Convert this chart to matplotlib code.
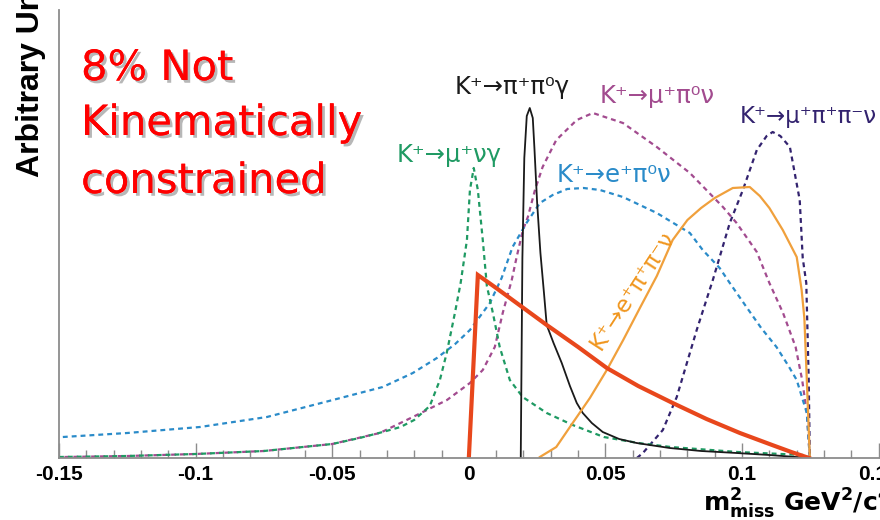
import matplotlib
matplotlib.use("Agg")
import matplotlib.pyplot as plt
import matplotlib.patheffects as pe
from matplotlib.ticker import MultipleLocator

# Missing-mass-squared distributions (arbitrary units)
x_mununug = [-0.150, -0.125, -0.100, -0.075, -0.050, -0.040, -0.0315, -0.025, -0.020,
             -0.0143, -0.0106, -0.0081, -0.0051, -0.003, -0.0007, 0.0004, 0.0018,
             0.0033, 0.0051, 0.0066, 0.0088, 0.0113, 0.0150, 0.0197, 0.0285, 0.038,
             0.0494, 0.0620, 0.0739, 0.0984, 0.1226, 0.1248]
y_mununug = [1, 2, 4, 7, 14, 20, 26, 31, 38, 52, 78, 105, 145, 175, 218, 268, 290,
             268, 218, 172, 145, 111, 78, 61, 45, 33, 21, 15, 11, 6, 3, 0]

x_epi0nu = [-0.1486, -0.125, -0.0984, -0.0739, -0.0498, -0.0315, -0.0205, -0.0117,
            -0.005, 0.0004, 0.0077, 0.0120, 0.0160, 0.0211, 0.026, 0.0307, 0.036,
            0.042, 0.048, 0.0564, 0.0688, 0.0809, 0.0856, 0.0918, 0.0955, 0.1016,
            0.1070, 0.1126, 0.1170, 0.1200, 0.1237, 0.1248]
y_epi0nu = [21, 25, 31, 41, 58, 71, 85, 100, 114, 128, 155, 180, 211, 235, 255, 263,
            269, 270, 268, 261, 245, 225, 208, 190, 175, 151, 130, 111, 92, 78, 45, 0]

x_mupi0nu = [-0.148, -0.125, -0.100, -0.075, -0.050, -0.0326, -0.0205, -0.008, 0.0004,
             0.0051, 0.0095, 0.0124, 0.0157, 0.0175, 0.0198, 0.0216, 0.0242, 0.027,
             0.032, 0.0395, 0.0454, 0.0564, 0.0688, 0.0809, 0.093, 0.098, 0.1054,
             0.1100, 0.1150, 0.1196, 0.1220, 0.1237, 0.1248]
y_mupi0nu = [1, 2, 4, 7, 14, 25, 41, 58, 75, 88, 111, 145, 178, 201, 228, 241, 268,
             291, 318, 338, 345, 335, 311, 285, 251, 235, 206, 175, 145, 111, 78, 45, 0]

x_mupipinu = [0.0615, 0.0637, 0.0710, 0.0761, 0.0834, 0.0893, 0.0955, 0.1003, 0.1054,
              0.1090, 0.1112, 0.1140, 0.1175, 0.1211, 0.1222, 0.1235, 0.1244, 0.1248]
y_mupipinu = [0, 5, 28, 61, 128, 178, 235, 268, 308, 322, 326, 322, 311, 258, 200,
              175, 78, 0]

x_pipi0g = [0.0190, 0.0196, 0.0203, 0.0212, 0.0223, 0.0234, 0.0240, 0.0250, 0.0262,
            0.0275, 0.0285, 0.031, 0.034, 0.037, 0.0395, 0.0417, 0.045, 0.049, 0.055,
            0.0614, 0.0735, 0.085, 0.098, 0.110, 0.1245]
y_pipi0g = [0, 200, 300, 342, 350, 340, 310, 255, 205, 165, 133, 115, 95, 72, 55, 45,
            35, 26, 19, 15, 10, 7, 5, 3, 0]

x_epipinu = [0.026, 0.032, 0.038, 0.0443, 0.0505, 0.0565, 0.0626, 0.0688, 0.0746, 0.080,
             0.085, 0.090, 0.0966, 0.1028, 0.1065, 0.110, 0.1149, 0.1200, 0.1218,
             0.1228, 0.1237, 0.1248]
y_epipinu = [1, 11, 35, 60, 88, 118, 150, 182, 218, 238, 250, 260, 270, 271, 262, 250,
             228, 201, 168, 140, 78, 0]

x_unconstr = [0.0, 0.0033, 0.010, 0.0285, 0.040, 0.0505, 0.062, 0.0746, 0.087, 0.0992,
              0.111, 0.118, 0.1245]
y_unconstr = [0, 183, 170, 133, 111, 90, 72, 55, 39, 25, 13, 6, 0]

tick_major = [-0.15, -0.1, -0.05, 0, 0.05, 0.1, 0.15]
tick_labels = ["-0.15", "-0.1", "-0.05", "0", "0.05", "0.1", "0.15"]

C_GREEN = "#1f9a63"
C_BLUE = "#2a8bc9"
C_MAGENTA = "#a24b8f"
C_INDIGO = "#33236f"
C_BLACK = "#1a1a1a"
C_ORANGE = "#f0a03c"
C_RED = "#e8471c"

fig = plt.figure(figsize=(8.8, 5.2), dpi=100)
ax = fig.add_axes([59 / 880, 62 / 520, 847 / 880, 448 / 520])
ax.set_xlim(-0.15, 0.16)
ax.set_ylim(0, 448)

dots = (0, (2.2, 1.8))
lw_d = 1.6
ax.plot(x_mupi0nu, y_mupi0nu, color=C_MAGENTA, lw=lw_d, ls=dots)
ax.plot(x_epi0nu, y_epi0nu, color=C_BLUE, lw=lw_d, ls=dots)
ax.plot(x_mupipinu, y_mupipinu, color=C_INDIGO, lw=lw_d, ls=dots)
ax.plot(x_mununug, y_mununug, color=C_GREEN, lw=lw_d, ls=dots)
ax.plot(x_pipi0g, y_pipi0g, color=C_BLACK, lw=1.3)
ax.plot(x_epipinu, y_epipinu, color=C_ORANGE, lw=1.6)
ax.plot(x_unconstr, y_unconstr, color=C_RED, lw=3.0, solid_joinstyle="miter")

lab_kw = dict(family="DejaVu Sans", clip_on=False)
ax.text(0.0157, 371, "K⁺→π⁺π⁰γ", color=C_BLACK, ha="center", va="center",
        fontsize=17.5, **lab_kw)
ax.text(0.0688, 362, "K⁺→μ⁺π⁰ν", color=C_MAGENTA, ha="center", va="center",
        fontsize=17.5, **lab_kw)
ax.text(0.0992, 341, "K⁺→μ⁺π⁺π⁻ν", color=C_INDIGO, ha="left", va="center",
        fontsize=16.5, **lab_kw)
ax.text(0.0531, 283, "K⁺→e⁺π⁰ν", color=C_BLUE, ha="center", va="center",
        fontsize=17.5, **lab_kw)
ax.text(-0.0073, 303, "K⁺→μ⁺νγ", color=C_GREEN, ha="center", va="center",
        fontsize=17.5, **lab_kw)
ax.text(0.0598, 168, "K⁺→e⁺π⁺π⁻ν", color="#f0961e", ha="center", va="center",
        rotation=57, rotation_mode="anchor", fontsize=16.5, **lab_kw)

for s in ("top", "right"):
    ax.spines[s].set_visible(False)
for s in ("left", "bottom"):
    ax.spines[s].set_color("#8c8c8c")
    ax.spines[s].set_linewidth(1.3)

ax.set_xticks(tick_major)
ax.set_xticklabels(tick_labels, fontsize=15, fontweight="bold", family="Liberation Sans")
ax.xaxis.set_minor_locator(MultipleLocator(0.01))
ax.tick_params(axis="x", which="major", direction="in", length=11, width=1.0,
               color="#8c8c8c", pad=5)
ax.tick_params(axis="x", which="minor", direction="in", length=6, width=1.0,
               color="#8c8c8c")
ax.set_yticks([])

fig.text(31 / 880, 343 / 520, "Arbitrary Units", rotation=90, ha="center", va="bottom",
         fontsize=23, fontweight="bold", family="Liberation Sans")

fig.text(703 / 880, 8 / 520, r"$\mathbf{m^{2}_{miss}}$ $\mathbf{GeV^{2}/c^{4}}$",
         fontsize=18, ha="left", va="baseline")

shadow = [pe.withSimplePatchShadow(offset=(2, -2), shadow_rgbFace="#999999", alpha=0.7),
          pe.Normal()]
for txt, yb in (("8% Not", 80), ("Kinematically", 135), ("constrained", 193)):
    fig.text(81 / 880, (520 - yb) / 520, txt, color="#ff0000", fontsize=30,
             family="DejaVu Sans", ha="left", va="baseline", path_effects=shadow)

fig.savefig("out.png", dpi=100)
